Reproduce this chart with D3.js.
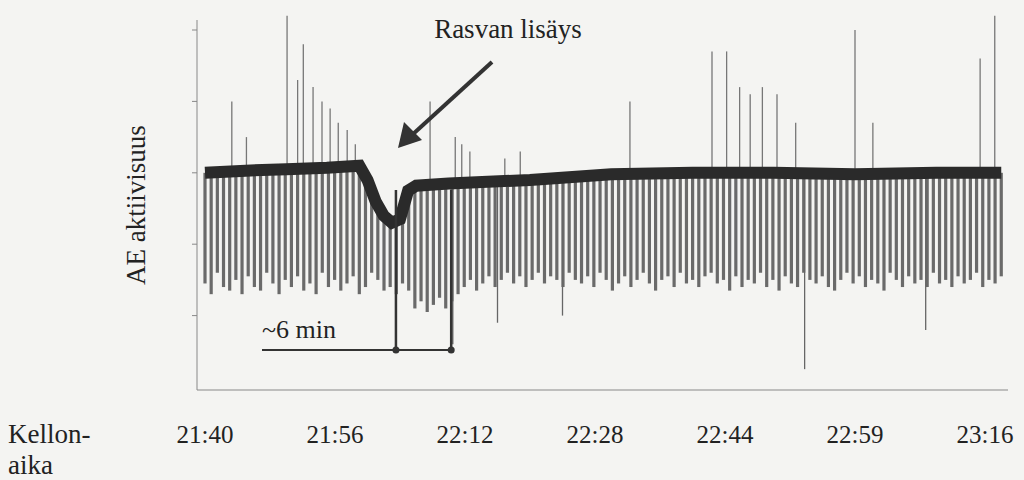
<!DOCTYPE html><html><head><meta charset="utf-8">
<script src="https://cdn.jsdelivr.net/npm/d3@7"></script>
<style>body{margin:0;background:#f4f4f2}</style>
</head><body><svg width="1024" height="480" font-family="'Liberation Serif','Times New Roman','DejaVu Serif',serif"></svg><script>
const tickLabels=["21:40","21:56","22:12","22:28","22:44","22:59","23:16"];
const tickMinutes=[0,16,32,48,64,80,96];
const yTicks=[1,2,3,4,5];
const baseline=[[0,3.0],[5,3.03],[10,3.05],[15,3.07],[19,3.1],[20,2.9],[21,2.6],[22,2.4],[23,2.3],[24,2.35],[25,2.75],[26,2.82],[30,2.85],[40,2.9],[50,2.98],[60,3.0],[70,3.0],[80,2.98],[90,3.0],[98,3.0]];
const downDepths=[1.45,1.3,1.6,1.4,1.35,1.5,1.3,1.55,1.4,1.35,1.6,1.45,1.3,1.5,1.4,1.55,1.35,1.45,1.3,1.6,1.4,1.5,1.35,1.45,1.55,1.3,1.4,1.6,1.5,1.35,
1.4,1.3,1.45,1.35,1.1,1.2,1.05,1.15,1.25,1.1,1.2,1.3,1.4,1.5,1.35,1.45,1.55,1.4,1.5,1.6,1.45,1.55,1.4,1.5,1.6,1.45,1.55,1.5,1.4,1.6,
1.5,1.45,1.55,1.4,1.6,1.5,1.35,1.45,1.55,1.4,1.5,1.6,1.45,1.35,1.5,1.55,1.4,1.6,1.45,1.5,1.4,1.55,1.6,1.45,1.5,1.35,1.55,1.4,1.5,1.45,
1.6,1.4,1.5,1.35,1.55,1.45,1.4,1.6,1.5,1.45,1.55,1.4,1.35,1.5,1.6,1.45,1.55,1.4,1.5,1.45,1.35,1.6,1.5,1.4,1.55,1.45,1.5,1.4,1.6,1.45,
1.5,1.4,1.55,1.45,1.5,1.6,1.4,1.5,1.45,1.55];
const longDown=[[30.5,0.6],[73.8,0.25],[88.7,0.8],[36,0.9],[44,1.0]];
const upSpikes=[[3.3,4.0],[5.1,3.5],[10.1,5.2],[11.4,4.3],[12.1,4.8],[13.3,4.2],[14.4,4.0],[15.4,3.9],[16.4,3.7],[17.5,3.6],[18.5,3.4],[27.7,4.0],[30.8,3.5],[31.6,3.4],[32.6,3.3],[36.9,3.2],[38.8,3.3],[52.3,4.0],[62.4,4.7],[64.2,4.7],[65.8,4.2],[67.1,4.1],[68.6,4.2],[70.4,4.1],[72.7,3.7],[80,5.0],[82.2,3.7],[95.4,4.6],[97.2,5.2]];
const svg=d3.select("svg");
const x=d3.scaleLinear().domain([0,96]).range([205,985]);
const y=d3.scaleLinear().domain([0,5]).range([387,30]);
svg.append("line").attr("x1",197).attr("x2",197).attr("y1",20).attr("y2",390).attr("stroke","#888");
svg.append("line").attr("x1",197).attr("x2",1008).attr("y1",390).attr("y2",390).attr("stroke","#888");
svg.selectAll(".yt").data(yTicks).join("line").attr("x1",192).attr("x2",197).attr("y1",d=>y(d)).attr("y2",d=>y(d)).attr("stroke","#888");
svg.selectAll(".xl").data(tickMinutes).join("text").attr("x",d=>x(d)).attr("y",443).attr("text-anchor","middle").attr("font-size",25).attr("fill","#222").text((d,i)=>tickLabels[i]);
const step=98/(downDepths.length-1);
const baseAt=t=>{for(let i=1;i<baseline.length;i++){if(t<=baseline[i][0]){const a=baseline[i-1],b=baseline[i];return a[1]+(b[1]-a[1])*(t-a[0])/(b[0]-a[0]);}}return 3;};
svg.selectAll(".dn").data(downDepths).join("line").attr("x1",(d,i)=>x(i*step)).attr("x2",(d,i)=>x(i*step)).attr("y1",(d,i)=>y(baseAt(i*step))).attr("y2",d=>y(d)).attr("stroke","#6a6a6a").attr("stroke-width",3.2);
svg.selectAll(".ld").data(longDown).join("line").attr("x1",d=>x(d[0])).attr("x2",d=>x(d[0])).attr("y1",d=>y(baseAt(d[0]))).attr("y2",d=>y(d[1])).attr("stroke","#666").attr("stroke-width",1.3);
svg.selectAll(".up").data(upSpikes).join("line").attr("x1",d=>x(d[0])).attr("x2",d=>x(d[0])).attr("y1",d=>y(baseAt(d[0]))).attr("y2",d=>y(d[1])).attr("stroke","#777").attr("stroke-width",1.3);
svg.append("path").datum(baseline).attr("d",d3.line().x(d=>x(d[0])).y(d=>y(d[1]))).attr("fill","none").attr("stroke","#2a2a2a").attr("stroke-width",12);
svg.append("text").attr("x",508).attr("y",38).attr("text-anchor","middle").attr("font-size",27).attr("fill","#222").text("Rasvan lisäys");
svg.append("line").attr("x1",492).attr("y1",62).attr("x2",412).attr("y2",135).attr("stroke","#333").attr("stroke-width",4);
svg.append("path").attr("d","M398,148 L404,122 L422,140 Z").attr("fill","#333");
svg.append("line").attr("x1",x(23.5)).attr("x2",x(23.5)).attr("y1",190).attr("y2",350).attr("stroke","#333").attr("stroke-width",2.5);
svg.append("line").attr("x1",x(30.3)).attr("x2",x(30.3)).attr("y1",190).attr("y2",350).attr("stroke","#333").attr("stroke-width",2.5);
svg.append("line").attr("x1",262).attr("x2",x(30.3)).attr("y1",350).attr("y2",350).attr("stroke","#333").attr("stroke-width",2);
svg.selectAll(".dot").data([23.5,30.3]).join("circle").attr("cx",d=>x(d)).attr("cy",350).attr("r",3.5).attr("fill","#333");
svg.append("text").attr("x",262).attr("y",338).attr("font-size",26).attr("fill","#222").text("~6 min");
svg.append("text").attr("transform","translate(145,205) rotate(-90)").attr("text-anchor","middle").attr("font-size",27).attr("fill","#222").text("AE aktiivisuus");
svg.append("text").attr("x",8).attr("y",443).attr("font-size",27).attr("fill","#222").text("Kellon-");
svg.append("text").attr("x",8).attr("y",474).attr("font-size",27).attr("fill","#222").text("aika");
</script></body></html>
